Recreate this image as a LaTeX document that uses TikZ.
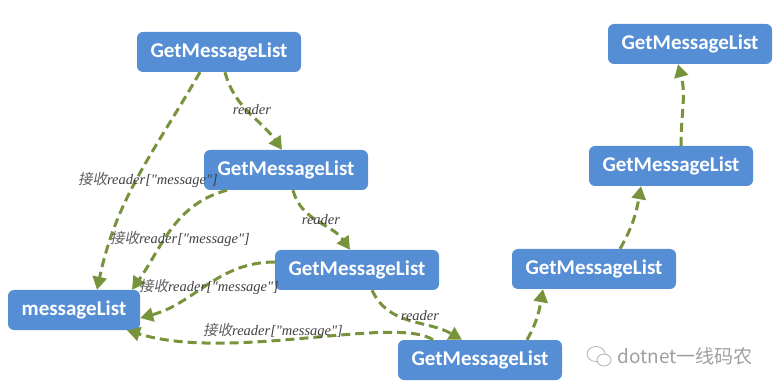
\documentclass[tikz,border=0pt]{standalone}
\usepackage{fontspec}
\usetikzlibrary{arrows.meta}
\newfontfamily\boxfont{Carlito}
\newfontfamily\labfont{Liberation Serif}
\newfontfamily\cjkit[FakeSlant=0.2]{Noto Sans CJK SC}
\newfontfamily\cjk{Noto Sans CJK SC}
\definecolor{boxblue}{HTML}{558ED5}
\definecolor{arrgreen}{HTML}{77933C}
\definecolor{labgray}{HTML}{404040}
\tikzset{
  mbox/.style={fill=boxblue, rounded corners=6pt, minimum width=164pt, minimum height=40pt, inner sep=0pt,
    text=white, font=\boxfont\bfseries\fontsize{21}{24}\selectfont},
  flow/.style={draw=arrgreen, line width=3pt, dash pattern=on 9pt off 5pt,
    -{Triangle[length=13pt,width=14pt]}},
  lab/.style={text=labgray, inner sep=0pt, font=\labfont\itshape\fontsize{14.5}{16}\selectfont},
}
\newcommand{\jieshou}{{\cjkit\color{labgray!85} 接收}}
\begin{document}
\begin{tikzpicture}[x=1pt,y=-1pt]
\useasboundingbox (0,0) rectangle (777,390);
\node[mbox] (n1) at (219,52) {GetMessageList};
\node[mbox] (n2) at (286,170) {GetMessageList};
\node[mbox] (n3) at (357,270) {GetMessageList};
\node[mbox] (n4) at (480,360) {GetMessageList};
\node[mbox] (n5) at (594,269) {GetMessageList};
\node[mbox] (n6) at (671,166) {GetMessageList};
\node[mbox] (n7) at (690,44) {GetMessageList};
\node[mbox, minimum width=132pt] (ml) at (74,310) {messageList};

\draw[flow] ([xshift=6pt]n1.south) to[out=-75,in=125] ([xshift=-4pt]n2.north);
\draw[flow] ([xshift=-19pt]n1.south) to[out=-120,in=78] ([xshift=23pt]ml.north);
\draw[flow] ([xshift=-59pt]n2.south) to[out=195,in=55] ([xshift=58pt]ml.north);
\draw[flow] ([xshift=7pt]n2.south) to[out=-75,in=125] ([xshift=-7pt]n3.north);
\draw[flow] ([yshift=8pt]n3.west) to[out=180,in=15] ([yshift=-8pt]ml.east);
\draw[flow] ([xshift=-47pt]n4.north) .. controls (395,315) and (230,362) .. ([xshift=53pt]ml.south);
\draw[flow] ([xshift=15pt]n3.south) to[out=-65,in=150] ([xshift=-18pt]n4.north);
\draw[flow] ([xshift=47pt]n4.north) to[out=60,in=-100] ([xshift=-51pt]n5.south);
\draw[flow] ([xshift=26pt]n5.north) to[out=60,in=-100] ([xshift=-30pt]n6.south);
\draw[flow] ([xshift=10pt]n6.north) to[out=90,in=-75] ([xshift=-12pt]n7.south);

\node[lab] (l1) at (252,110) {reader};
\node[lab] (l2) at (321,220) {reader};
\node[lab] (l3) at (420,316) {reader};
\node[lab] (m1) at (148,180) {\jieshou reader["message"]};
\node[lab] (m2) at (180,239) {\jieshou reader["message"]};
\node[lab] (m3) at (209,287) {\jieshou reader["message"]};
\node[lab] (m4) at (273,331) {\jieshou reader["message"]};

\draw[gray!60, line width=0.8pt] (596,354) ellipse (9pt and 7.5pt);
\draw[gray!60, line width=0.8pt, fill=white] (604,360) ellipse (7pt and 6pt);
\node[text=gray!75, inner sep=0pt, font=\cjk\fontsize{19}{21}\selectfont] (wm) at (685,356) {dotnet一线码农};
\end{tikzpicture}
\end{document}
